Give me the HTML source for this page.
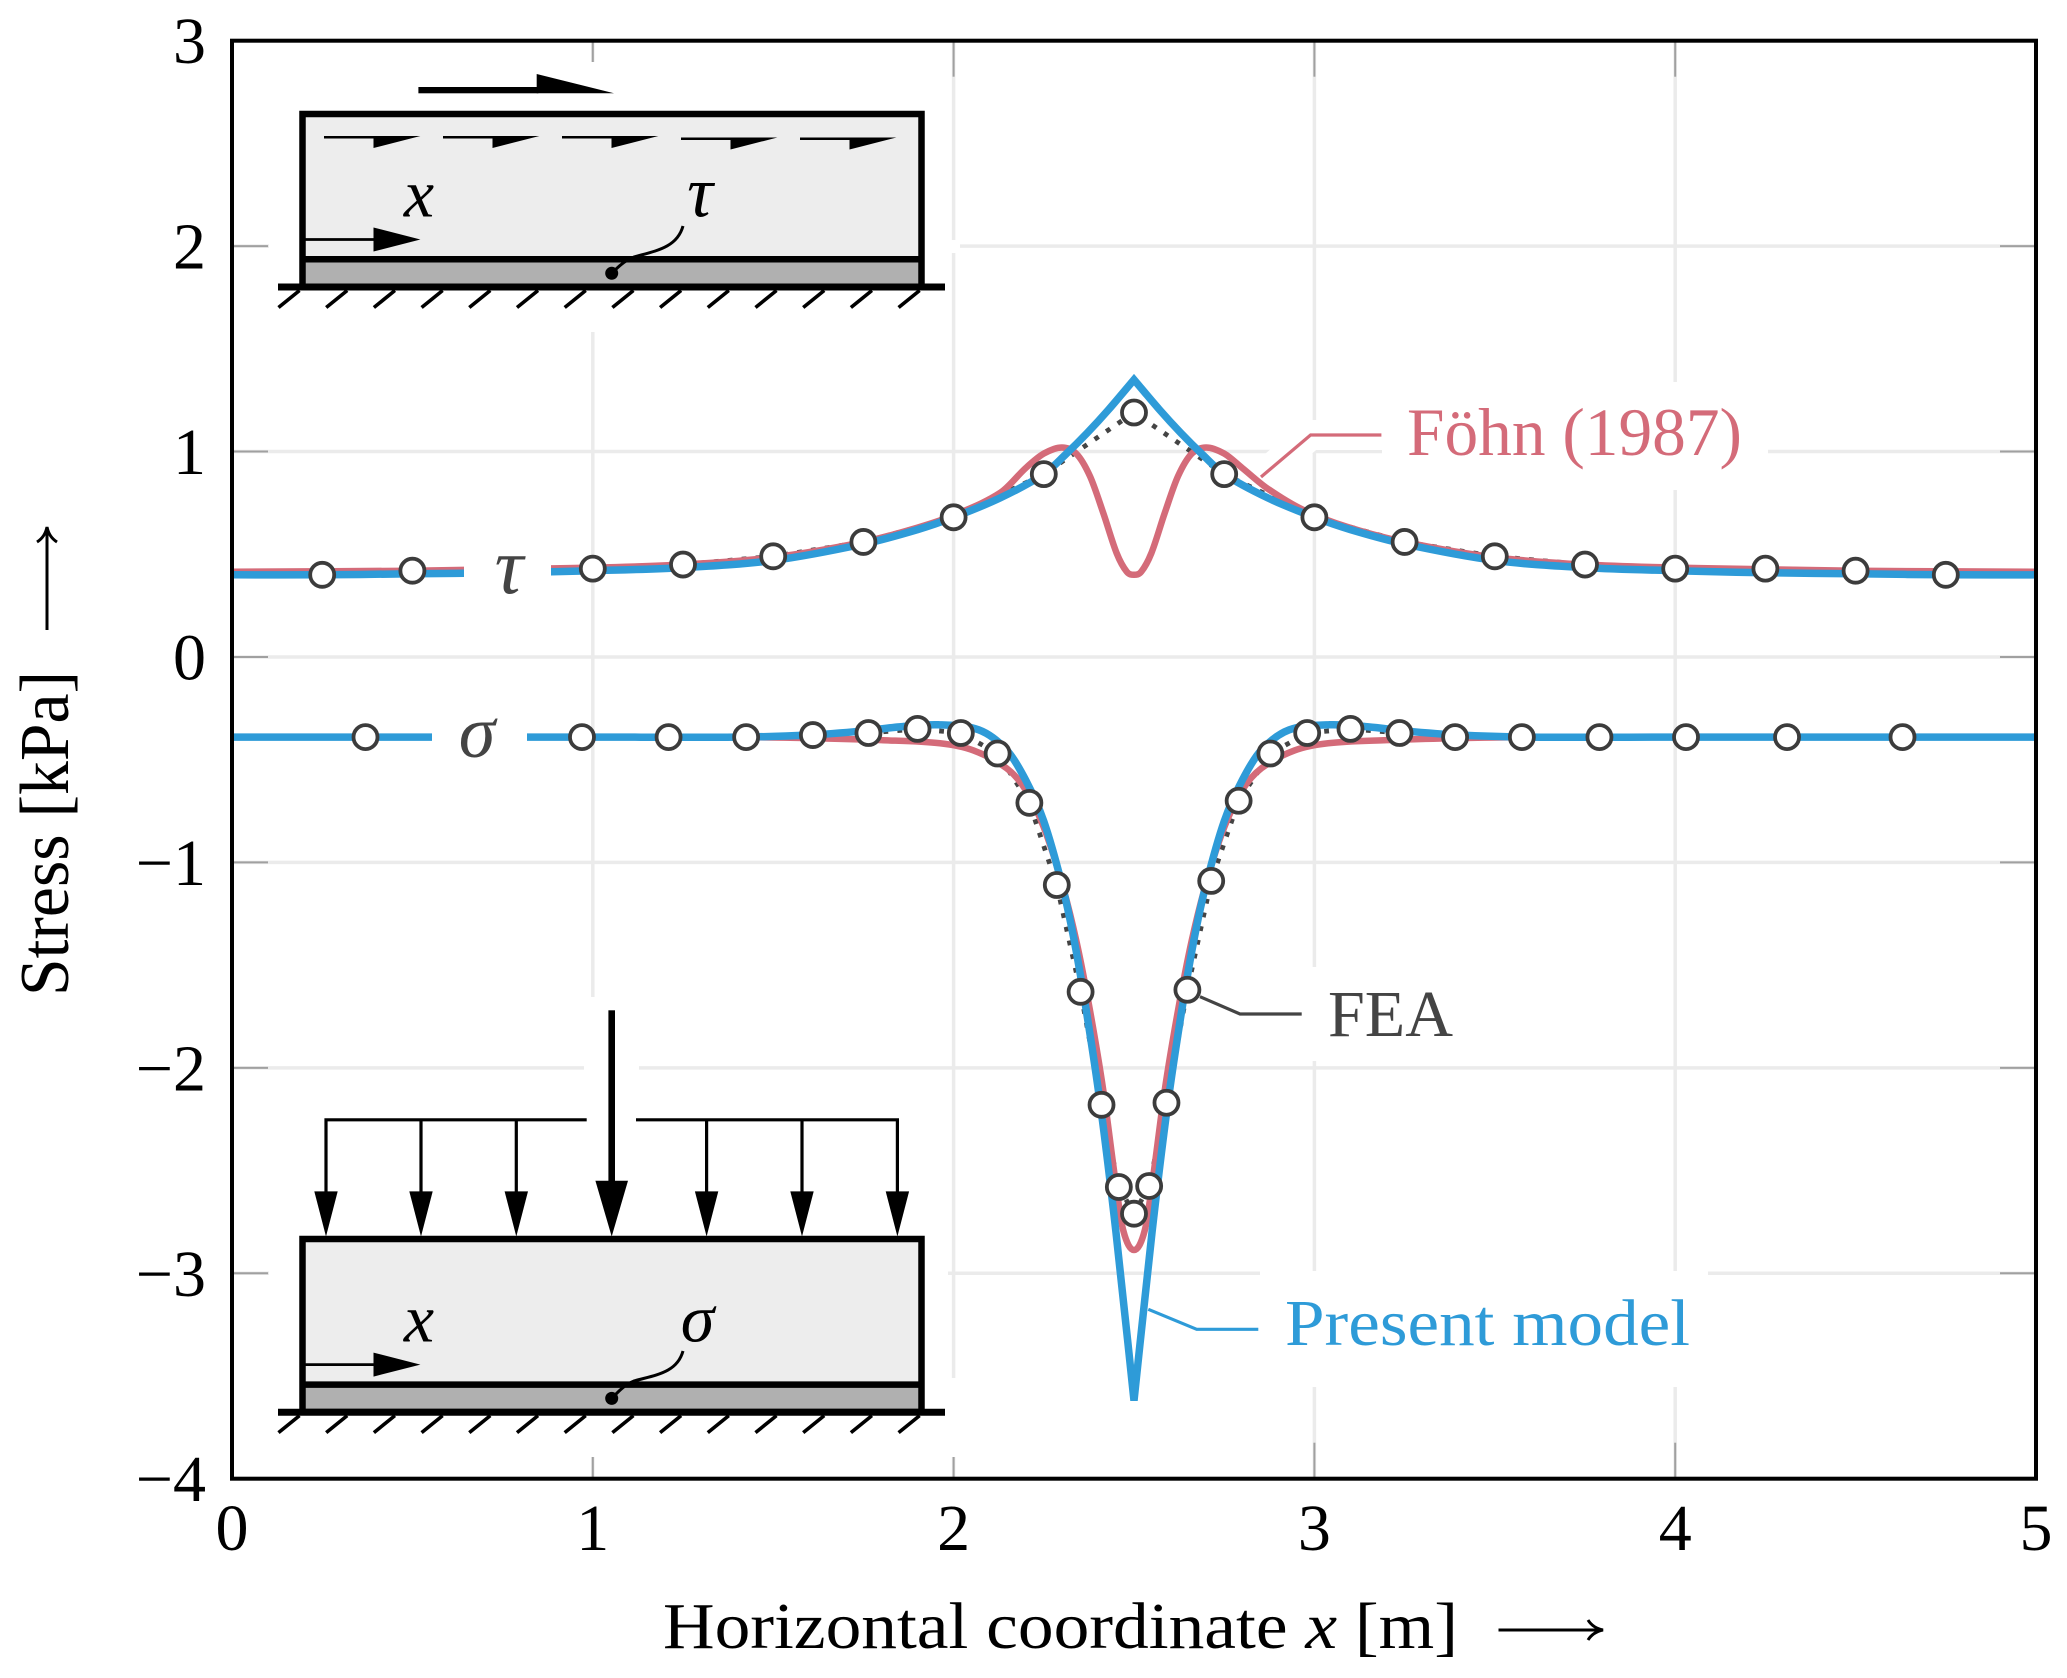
<!DOCTYPE html>
<html lang="en">
<head>
<meta charset="utf-8">
<title>Stress along horizontal coordinate</title>
<style>
html,body{margin:0;padding:0;background:#fff;}
svg{display:block;}
text{font-family:"Liberation Serif","DejaVu Serif",serif;}
</style>
</head>
<body>
<svg id="chart" xmlns="http://www.w3.org/2000/svg" width="2067" height="1678" viewBox="0 0 2067 1678">
  <rect x="0" y="0" width="2067" height="1678" fill="#fff"/>
  <g id="grid"></g>
  <g id="ticks"></g>

  <g fill="#fff">
    <rect x="269" y="62" width="679" height="270"/>
    <rect x="940" y="240" width="20" height="13"/>
    <rect x="269" y="1085" width="679" height="372"/>
    <rect x="584" y="997" width="55" height="90"/>
    <rect x="940" y="1378" width="20" height="79"/>
    <rect x="1382" y="382" width="386" height="108"/>
    <rect x="1305" y="967" width="165" height="94"/>
    <rect x="1260" y="1271" width="448" height="116"/>
    <polyline points="1261,477 1310.6,435 1385,435" fill="none" stroke="#fff" stroke-width="30"/>
  </g>

  <g id="series"></g>

  <rect x="464" y="535" width="87" height="75" fill="#fff"/>
  <rect x="432" y="700" width="95" height="75" fill="#fff"/>

  <polyline points="1261,477 1310.6,435 1381.4,435" fill="none" stroke="#d46b79" stroke-width="3.2"/>
  <polyline points="1200,996.7 1240,1014 1301.7,1014" fill="none" stroke="#444" stroke-width="3.2"/>
  <polyline points="1148.3,1309.3 1196.7,1329.3 1258.3,1329.3" fill="none" stroke="#2e9bd8" stroke-width="3.2"/>

  <text x="1407" y="455" font-size="68" fill="#d46b79" textLength="335" lengthAdjust="spacingAndGlyphs">Föhn (1987)</text>
  <text x="1328" y="1036" font-size="66" fill="#444" textLength="125" lengthAdjust="spacingAndGlyphs">FEA</text>
  <text x="1285" y="1345" font-size="66" fill="#2e9bd8" textLength="405" lengthAdjust="spacingAndGlyphs">Present model</text>
  <text x="509" y="593" font-size="80" font-style="italic" text-anchor="middle" fill="#444">τ</text>
  <text x="477" y="757" font-size="74" font-style="italic" text-anchor="middle" fill="#444">σ</text>

  <!-- top inset -->
  <g id="inset-top">
    <rect x="302.5" y="114" width="619" height="145" fill="#ededed"/>
    <rect x="302.5" y="259" width="619" height="28" fill="#b0b0b0"/>
    <rect x="302.5" y="114" width="619" height="173" fill="none" stroke="#000" stroke-width="6.5"/>
    <line x1="302.5" y1="259.3" x2="921.5" y2="259.3" stroke="#000" stroke-width="6.5"/>
    <line x1="278" y1="287" x2="945" y2="287" stroke="#000" stroke-width="7"/>
    <path id="hatch-top" fill="none" stroke="#000" stroke-width="3.6"/>
    <rect x="418.4" y="87" width="120" height="6.3" fill="#000"/>
    <polygon points="536.7,74 614,93.3 536.7,93.3" fill="#000"/>
    <g fill="#000">
      <path d="M324,136h96.4l-46.9,12v-9.5H324z"/>
      <path d="M443,136h96.4l-46.9,12v-9.5H443z"/>
      <path d="M562,136h96.4l-46.9,12v-9.5H562z"/>
      <path d="M681,137.5h96.4l-46.9,12V140H681z"/>
      <path d="M800,137.5h96.4l-46.9,12V140H800z"/>
    </g>
    <line x1="305" y1="239.5" x2="375" y2="239.5" stroke="#000" stroke-width="2.8"/>
    <polygon points="373.5,227.5 420.4,239.5 373.5,251.5" fill="#000"/>
    <text x="419" y="216.5" font-size="68" font-style="italic" text-anchor="middle" fill="#000">x</text>
    <text x="700" y="216.5" font-size="72" font-style="italic" text-anchor="middle" fill="#000">τ</text>
    <path d="M683,226 C677,248 655,251 634,257 C624,261 618,267 611.7,273.3" fill="none" stroke="#000" stroke-width="3"/>
    <circle cx="611.7" cy="273.3" r="6.5" fill="#000"/>
  </g>

  <!-- bottom inset -->
  <g id="inset-bottom">
    <rect x="302.5" y="1239" width="619" height="146" fill="#ededed"/>
    <rect x="302.5" y="1385" width="619" height="27" fill="#b0b0b0"/>
    <rect x="302.5" y="1239" width="619" height="173" fill="none" stroke="#000" stroke-width="6.5"/>
    <line x1="302.5" y1="1384.6" x2="921.5" y2="1384.6" stroke="#000" stroke-width="6.5"/>
    <line x1="278" y1="1412.2" x2="945" y2="1412.2" stroke="#000" stroke-width="7"/>
    <path id="hatch-bottom" fill="none" stroke="#000" stroke-width="3.6"/>
    <rect x="608.4" y="1010.3" width="6.6" height="175" fill="#000"/>
    <polygon points="595.4,1180.8 628,1180.8 611.7,1236.5" fill="#000"/>
    <path d="M326,1192V1119.8H586.7M636,1119.8H897.4V1192M421,1119.8V1192M516.3,1119.8V1192M706.6,1119.8V1192M802,1119.8V1192" fill="none" stroke="#000" stroke-width="3.2"/>
    <g fill="#000">
      <polygon points="314.3,1191.4 337.7,1191.4 326,1236.5"/>
      <polygon points="409.3,1191.4 432.7,1191.4 421,1236.5"/>
      <polygon points="504.6,1191.4 528,1191.4 516.3,1236.5"/>
      <polygon points="694.9,1191.4 718.3,1191.4 706.6,1236.5"/>
      <polygon points="790.3,1191.4 813.7,1191.4 802,1236.5"/>
      <polygon points="885.7,1191.4 909.1,1191.4 897.4,1236.5"/>
    </g>
    <line x1="305" y1="1364.6" x2="375" y2="1364.6" stroke="#000" stroke-width="2.8"/>
    <polygon points="373.5,1352.6 420.4,1364.6 373.5,1376.6" fill="#000"/>
    <text x="419" y="1341.5" font-size="68" font-style="italic" text-anchor="middle" fill="#000">x</text>
    <text x="697.5" y="1341.5" font-size="68" font-style="italic" text-anchor="middle" fill="#000">σ</text>
    <path d="M683,1351 C677,1373 655,1375 634,1381 C624,1385 618,1392 611.7,1398.4" fill="none" stroke="#000" stroke-width="3"/>
    <circle cx="611.7" cy="1398.4" r="6.5" fill="#000"/>
  </g>

  <rect x="232" y="40.7" width="1804" height="1438" fill="none" stroke="#000" stroke-width="4"/>
  <g id="tick-labels"></g>

  <text x="663" y="1648" font-size="66" fill="#000" textLength="795" lengthAdjust="spacingAndGlyphs">Horizontal coordinate <tspan font-style="italic">x</tspan> [m]</text>
  <path d="M1498.5,1630H1601M1588,1620Q1593,1628 1603,1630Q1593,1632 1588,1640" fill="none" stroke="#000" stroke-width="3"/>
  <text transform="translate(68,996) rotate(-90)" x="0" y="0" font-size="70" fill="#000" textLength="325" lengthAdjust="spacingAndGlyphs">Stress [kPa]</text>
  <path d="M47,630V529M37,542Q45,537 47,527Q49,537 57,542" fill="none" stroke="#000" stroke-width="3"/>
</svg>

<script>
// Axis ticks
const xTickValues = [0, 1, 2, 3, 4, 5];
const yTickValues = [3, 2, 1, 0, -1, -2, -3, -4];

// Shear stress, present model
const presentTauX = [0, 0.25, 0.5, 0.75, 1, 1.25, 1.5, 1.75, 1.9, 2.0, 2.13, 2.25, 2.31, 2.37, 2.43, 2.5, 2.57, 2.63, 2.69, 2.75, 2.87, 3.0, 3.1, 3.25, 3.5, 3.75, 4, 4.25, 4.5, 4.75, 5];
const presentTauY = [0.40, 0.40, 0.405, 0.41, 0.42, 0.435, 0.47, 0.55, 0.62, 0.68, 0.775, 0.89, 0.985, 1.09, 1.205, 1.35, 1.205, 1.09, 0.985, 0.89, 0.775, 0.68, 0.62, 0.55, 0.47, 0.435, 0.42, 0.41, 0.405, 0.40, 0.40];

// Shear stress, Fohn (1987)
const fohnTauX = [0, 0.5, 1, 1.25, 1.5, 1.75, 1.9, 2.0, 2.13, 2.2, 2.25, 2.3, 2.34, 2.378, 2.415, 2.452, 2.48, 2.5, 2.52, 2.548, 2.585, 2.622, 2.66, 2.7, 2.75, 2.8, 2.87, 2.97, 3.09, 3.25, 3.5, 3.75, 4, 4.5, 5];
const fohnTauY = [0.415, 0.42, 0.435, 0.45, 0.485, 0.56, 0.63, 0.69, 0.80, 0.92, 0.99, 1.02, 0.99, 0.88, 0.70, 0.505, 0.415, 0.40, 0.415, 0.505, 0.70, 0.88, 0.99, 1.02, 0.99, 0.92, 0.82, 0.715, 0.634, 0.56, 0.485, 0.45, 0.435, 0.42, 0.415];

// Normal stress, present model
const presentSigmaX = [0, 0.5, 1, 1.4, 1.6, 1.75, 1.85, 1.96, 2.07, 2.147, 2.2, 2.25, 2.3, 2.332, 2.364, 2.406, 2.45, 2.5, 2.55, 2.594, 2.636, 2.668, 2.7, 2.75, 2.8, 2.853, 2.93, 3.04, 3.15, 3.25, 3.4, 3.6, 4, 4.5, 5];
const presentSigmaY = [-0.39, -0.39, -0.39, -0.39, -0.38, -0.36, -0.34, -0.33, -0.355, -0.453, -0.60, -0.80, -1.105, -1.36, -1.68, -2.17, -2.80, -3.62, -2.80, -2.17, -1.68, -1.36, -1.105, -0.80, -0.60, -0.453, -0.355, -0.33, -0.34, -0.36, -0.38, -0.39, -0.39, -0.39, -0.39];

// Normal stress, Fohn (1987)
const fohnSigmaX = [0, 0.5, 1, 1.4, 1.6, 1.8, 1.962, 2.055, 2.147, 2.2, 2.25, 2.3, 2.34, 2.378, 2.415, 2.447, 2.47, 2.5, 2.53, 2.553, 2.585, 2.622, 2.66, 2.7, 2.75, 2.8, 2.853, 2.945, 3.038, 3.2, 3.4, 3.6, 4, 4.5, 5];
const fohnSigmaY = [-0.39, -0.39, -0.39, -0.39, -0.395, -0.405, -0.42, -0.455, -0.542, -0.648, -0.83, -1.10, -1.38, -1.72, -2.11, -2.53, -2.79, -2.887, -2.79, -2.53, -2.11, -1.72, -1.38, -1.10, -0.83, -0.648, -0.542, -0.455, -0.42, -0.405, -0.395, -0.39, -0.39, -0.39, -0.39];

// FEA points, shear
const feaTauX = [0.25, 0.5, 0.75, 1, 1.25, 1.5, 1.75, 2, 2.25, 2.5, 2.75, 3, 3.25, 3.5, 3.75, 4, 4.25, 4.5, 4.75];
const feaTauY = [0.40, 0.42, 0.42, 0.43, 0.45, 0.49, 0.56, 0.68, 0.89, 1.19, 0.89, 0.68, 0.56, 0.49, 0.45, 0.43, 0.43, 0.42, 0.40];

// FEA points, normal
const feaSigmaX = [0.37, 0.69, 0.97, 1.21, 1.425, 1.61, 1.764, 1.90, 2.02, 2.122, 2.21, 2.286, 2.352, 2.41, 2.458, 2.5, 2.542, 2.59, 2.648, 2.714, 2.79, 2.878, 2.98, 3.10, 3.236, 3.39, 3.575, 3.79, 4.03, 4.31, 4.63];
const feaSigmaY = [-0.39, -0.39, -0.39, -0.39, -0.39, -0.38, -0.37, -0.35, -0.37, -0.47, -0.71, -1.11, -1.63, -2.18, -2.58, -2.71, -2.575, -2.17, -1.62, -1.09, -0.70, -0.47, -0.37, -0.35, -0.37, -0.39, -0.39, -0.39, -0.39, -0.39, -0.39];

const SVG_NS = 'http://www.w3.org/2000/svg';
const plot = { left: 232, right: 2036, top: 40.7, bottom: 1478.7, xMin: 0, xMax: 5, yMin: -4, yMax: 3 };

function xScale(v) {
  return plot.left + (v - plot.xMin) / (plot.xMax - plot.xMin) * (plot.right - plot.left);
}
function yScale(v) {
  return plot.top + (plot.yMax - v) / (plot.yMax - plot.yMin) * (plot.bottom - plot.top);
}
function make(tag, parent, attrs) {
  const el = document.createElementNS(SVG_NS, tag);
  for (const k in attrs) el.setAttribute(k, attrs[k]);
  parent.appendChild(el);
  return el;
}
function smoothPath(xs, ys, cuspX) {
  const px = xs.map(xScale);
  const py = ys.map(yScale);
  const n = px.length;
  const leftSlope = [];
  const rightSlope = [];
  for (let i = 0; i < n; i++) {
    const a = Math.max(i - 1, 0);
    const b = Math.min(i + 1, n - 1);
    const central = (py[b] - py[a]) / (px[b] - px[a]);
    if (xs[i] === cuspX) {
      leftSlope[i] = (py[i] - py[i - 1]) / (px[i] - px[i - 1]);
      rightSlope[i] = (py[i + 1] - py[i]) / (px[i + 1] - px[i]);
    } else {
      leftSlope[i] = central;
      rightSlope[i] = central;
    }
  }
  let d = 'M' + px[0].toFixed(2) + ',' + py[0].toFixed(2);
  for (let i = 0; i < n - 1; i++) {
    const h = (px[i + 1] - px[i]) / 3;
    d += 'C' + (px[i] + h).toFixed(2) + ',' + (py[i] + rightSlope[i] * h).toFixed(2) +
         ' ' + (px[i + 1] - h).toFixed(2) + ',' + (py[i + 1] - leftSlope[i + 1] * h).toFixed(2) +
         ' ' + px[i + 1].toFixed(2) + ',' + py[i + 1].toFixed(2);
  }
  return d;
}
function straightPath(xs, ys) {
  return xs.map(function (v, i) {
    return (i ? 'L' : 'M') + xScale(v).toFixed(2) + ',' + yScale(ys[i]).toFixed(2);
  }).join('');
}

const gridGroup = document.getElementById('grid');
const tickGroup = document.getElementById('ticks');
const labelGroup = document.getElementById('tick-labels');
const seriesGroup = document.getElementById('series');

xTickValues.forEach(function (v) {
  const x = xScale(v);
  if (v !== plot.xMin && v !== plot.xMax) {
    const g = make('line', gridGroup, { x1: x, x2: x, y1: plot.top, y2: plot.bottom, stroke: '#ebebeb', 'stroke-width': 3.5 });
    
    
    const t1 = make('line', tickGroup, { x1: x, x2: x, y1: plot.top, y2: plot.top + 36, stroke: '#a0a0a0', 'stroke-width': 2 });
    
    
    const t2 = make('line', tickGroup, { x1: x, x2: x, y1: plot.bottom, y2: plot.bottom - 36, stroke: '#a0a0a0', 'stroke-width': 2 });
    
    
  }
  const lab = make('text', labelGroup, { x: x, y: 1550, 'font-size': 66, 'text-anchor': 'middle', fill: '#000' });
  
  
  lab.textContent = String(v);
});

yTickValues.forEach(function (v) {
  const y = yScale(v);
  if (v !== plot.yMin && v !== plot.yMax) {
    const g = make('line', gridGroup, { x1: plot.left, x2: plot.right, y1: y, y2: y, stroke: '#ebebeb', 'stroke-width': 3.5 });
    
    
    const t1 = make('line', tickGroup, { x1: plot.left, x2: plot.left + 36, y1: y, y2: y, stroke: '#a0a0a0', 'stroke-width': 2 });
    
    
    const t2 = make('line', tickGroup, { x1: plot.right, x2: plot.right - 36, y1: y, y2: y, stroke: '#a0a0a0', 'stroke-width': 2 });
    
    
  }
  const lab = make('text', labelGroup, { x: 206, y: y + 22.5, 'font-size': 66, 'text-anchor': 'end', fill: '#000' });
  
  
  lab.textContent = String(v).replace('-', '\u2212');
});

[[feaTauX, feaTauY, 'fea-tau-dotted-line'], [feaSigmaX, feaSigmaY, 'fea-sigma-dotted-line']].forEach(function (s) {
  const p = make('path', seriesGroup, { d: straightPath(s[0], s[1]), fill: 'none', stroke: '#444', 'stroke-width': 4.8, 'stroke-dasharray': '4.8 9.2' });
  
  
});

const fohnTauLine = make('path', seriesGroup, { d: smoothPath(fohnTauX, fohnTauY), fill: 'none', stroke: '#d46b79', 'stroke-width': 6.5 });



const fohnSigmaLine = make('path', seriesGroup, { d: smoothPath(fohnSigmaX, fohnSigmaY), fill: 'none', stroke: '#d46b79', 'stroke-width': 6.5 });



const presentTauLine = make('path', seriesGroup, { d: smoothPath(presentTauX, presentTauY, 2.5), fill: 'none', stroke: '#2e9bd8', 'stroke-width': 7.5, 'stroke-linejoin': 'miter', 'stroke-miterlimit': 4 });



const presentSigmaLine = make('path', seriesGroup, { d: smoothPath(presentSigmaX, presentSigmaY, 2.5), fill: 'none', stroke: '#2e9bd8', 'stroke-width': 7.5, 'stroke-linejoin': 'bevel' });



feaTauX.forEach(function (v, i) {
  const c = make('circle', seriesGroup, { cx: xScale(v), cy: yScale(feaTauY[i]), r: 12, fill: '#fff', stroke: '#3c3c3c', 'stroke-width': 3.8 });
  
  
});
feaSigmaX.forEach(function (v, i) {
  const c = make('circle', seriesGroup, { cx: xScale(v), cy: yScale(feaSigmaY[i]), r: 12, fill: '#fff', stroke: '#3c3c3c', 'stroke-width': 3.8 });
  
  
});

function hatchPath(y0) {
  let d = '';
  for (let i = 0; i < 14; i++) {
    const x = 299.5 + i * 47.7;
    d += 'M' + x.toFixed(1) + ',' + y0 + 'L' + (x - 21).toFixed(1) + ',' + (y0 + 17);
  }
  return d;
}
document.getElementById('hatch-top').setAttribute('d', hatchPath(290.5));
document.getElementById('hatch-bottom').setAttribute('d', hatchPath(1415.6));
</script>
</body>
</html>
